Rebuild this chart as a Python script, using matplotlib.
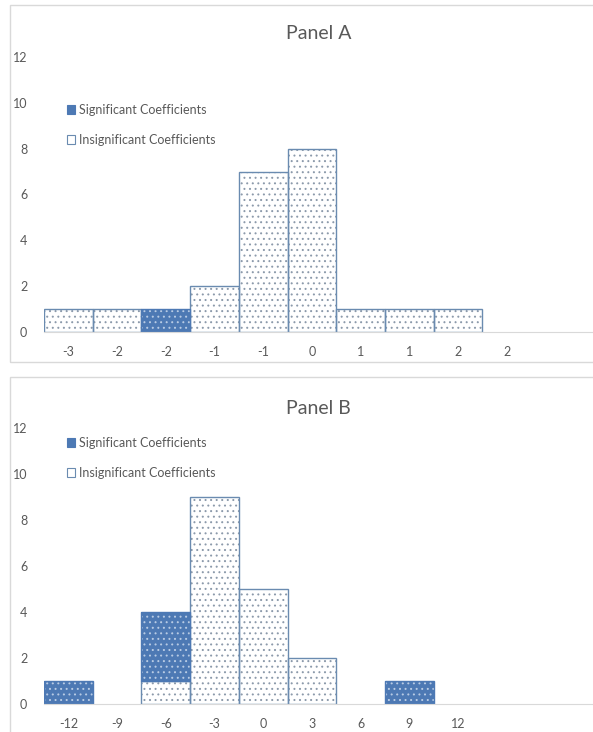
import numpy as np
import matplotlib
matplotlib.use('Agg')
import matplotlib.pyplot as plt
from matplotlib.patches import Patch, Rectangle

plt.rcParams['font.family'] = ['Lato', 'DejaVu Sans']
plt.rcParams['hatch.linewidth'] = 0.7

# Panel A data
labels_a = ['-3', '-2', '-2', '-1', '-1', '0', '1', '1', '2', '2']
insig_a = [1, 1, 0, 2, 7, 8, 1, 1, 1, 0]
sig_a = [0, 0, 1, 0, 0, 0, 0, 0, 0, 0]

# Panel B data
labels_b = ['-12', '-9', '-6', '-3', '0', '3', '6', '9', '12']
insig_b = [0, 0, 1, 9, 5, 2, 0, 0, 0]
sig_b = [1, 0, 3, 0, 0, 0, 0, 1, 0]

SIG_COLOR = '#4d79b4'
EDGE_COLOR = '#6a8bb0'
DOT_COLOR = '#8c9aab'
SIG_DOT = '#b8cbe4'
TEXT_COLOR = '#595959'


def draw_panel(ax, labels, insig, sig, leg_y):
    x = np.arange(len(labels))
    insig = np.array(insig)
    sig = np.array(sig)
    mi = insig > 0
    ms = sig > 0
    # insignificant (bottom): white with grey dots
    ax.bar(x[mi], insig[mi], width=1.0, color='white', edgecolor=DOT_COLOR,
           hatch='...', linewidth=0)
    ax.bar(x[mi], insig[mi], width=1.0, fill=False, edgecolor=EDGE_COLOR,
           linewidth=1.0)
    # significant (stacked on top): blue with light dots
    ax.bar(x[ms], sig[ms], bottom=insig[ms], width=1.0, color=SIG_COLOR,
           edgecolor=SIG_DOT, hatch='...', linewidth=0)
    ax.bar(x[ms], sig[ms], bottom=insig[ms], width=1.0, fill=False,
           edgecolor=SIG_COLOR, linewidth=1.0)

    ax.set_xticks(x)
    ax.set_xticklabels(labels)
    ax.set_ylim(0, 12)
    ax.set_yticks(np.arange(0, 13, 2))
    ax.set_xlim(-0.5, 10.77)
    for s in ['top', 'right', 'left']:
        ax.spines[s].set_visible(False)
    ax.spines['bottom'].set_color('#d9d9d9')
    ax.tick_params(axis='both', length=0, labelsize=9, labelcolor=TEXT_COLOR)
    ax.tick_params(axis='x', pad=10)
    ax.tick_params(axis='y', pad=12)

    handles = [
        Patch(facecolor=SIG_COLOR, edgecolor=SIG_COLOR, linewidth=0.8,
              label='Significant Coefficients'),
        Patch(facecolor='white', edgecolor=EDGE_COLOR, linewidth=0.8,
              label='Insignificant Coefficients'),
    ]
    leg = ax.legend(handles=handles, loc='upper left', bbox_to_anchor=(0.03, leg_y),
                    frameon=False, fontsize=9, handlelength=0.7, handleheight=0.7,
                    handletextpad=0.25, labelspacing=1.45, borderpad=0)
    for t in leg.get_texts():
        t.set_color(TEXT_COLOR)


fig = plt.figure(figsize=(5.93, 7.32), dpi=100)

# light panel borders
fig.patches.append(Rectangle((10 / 593, (732 - 362) / 732), 1.0, 357 / 732,
                             transform=fig.transFigure, fill=False,
                             edgecolor='#d9d9d9', linewidth=1))
fig.patches.append(Rectangle((10 / 593, -0.01), 1.0, (732 - 377) / 732 + 0.01,
                             transform=fig.transFigure, fill=False,
                             edgecolor='#d9d9d9', linewidth=1))

ax_a = fig.add_axes([44 / 593, 400 / 732, 549 / 593, 275 / 732])
ax_b = fig.add_axes([44 / 593, 28 / 732, 549 / 593, 276 / 732])

draw_panel(ax_a, labels_a, insig_a, sig_a, 0.852)
draw_panel(ax_b, labels_b, insig_b, sig_b, 0.99)

ax_a.set_title('Panel A', fontsize=14, color=TEXT_COLOR, pad=13)
ax_b.set_title('Panel B', fontsize=14, color=TEXT_COLOR, pad=10)

fig.savefig('out.png', dpi=100)
